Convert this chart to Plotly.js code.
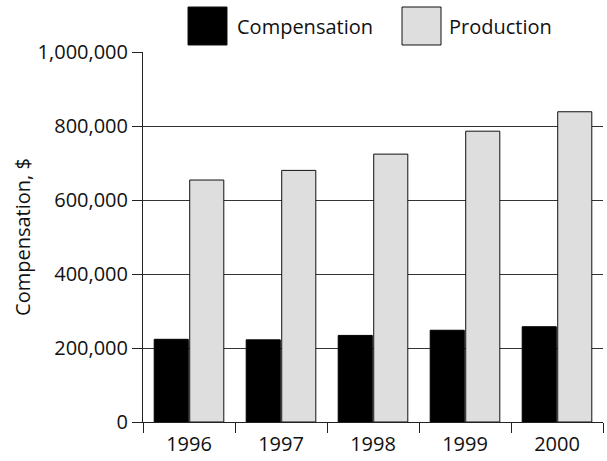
<!DOCTYPE html>
<html>
<head>
<meta charset="utf-8">
<script src="https://cdn.plot.ly/plotly-3.0.1.min.js"></script>
<style>
  html, body { margin: 0; padding: 0; background: #fff; }
  #chart { width: 607px; height: 461px; }
</style>
</head>
<body>
<div id="chart"></div>
<script>
// Annual totals, 1996–2000
const years = ['1996', '1997', '1998', '1999', '2000'];
const compensation = [223500, 222000, 234000, 248000, 257500];
const production = [654000, 680000, 724000, 786000, 838500];
const yTicks = [0, 200000, 400000, 600000, 800000, 1000000];

const seriesNames = ['Compensation', 'Production'];
const seriesFill = ['#000000', '#dedede'];

const textColor = '#111';
const fontFamily = '"Open Sans", "Noto Sans", sans-serif';

const traces = [
  {
    type: 'bar', name: seriesNames[0], x: years, y: compensation,
    marker: { color: seriesFill[0], line: { color: '#000', width: 1 } },
    hoverinfo: 'x+y'
  },
  {
    type: 'bar', name: seriesNames[1], x: years, y: production,
    marker: { color: seriesFill[1], line: { color: '#111', width: 1 } },
    hoverinfo: 'x+y'
  }
];

// Plot area in pixels, used to place the large legend keys above it
const W = 607, H = 461;
const M = { l: 143, r: 4, t: 52, b: 39 };
const pw = W - M.l - M.r, ph = H - M.t - M.b;
const px = v => (v - M.l) / pw;
const py = v => (H - M.b - v) / ph;

// Legend: big square keys followed by the series names
const keys = [
  { x0: 188, x1: 227, text: 235 },
  { x0: 402, x1: 441, text: 447 }
];
const shapes = keys.map((k, i) => ({
  type: 'rect', xref: 'paper', yref: 'paper',
  x0: px(k.x0), x1: px(k.x1), y0: py(45), y1: py(7),
  fillcolor: seriesFill[i], line: { color: '#111', width: 1 }
}));
const annotations = keys.map((k, i) => ({
  xref: 'paper', yref: 'paper', x: px(k.text), y: py(26),
  xanchor: 'left', yanchor: 'middle', showarrow: false,
  text: seriesNames[i], font: { size: 20, color: textColor, family: fontFamily }
}));

const layout = {
  width: W, height: H,
  margin: M,
  paper_bgcolor: '#fff', plot_bgcolor: '#fff',
  font: { family: fontFamily, size: 20, color: textColor },
  showlegend: false,
  barmode: 'group',
  bargap: 0.228,
  bargroupgap: 0.04,
  xaxis: {
    type: 'category',
    tickson: 'boundaries',
    ticks: 'outside', ticklen: 10, tickwidth: 1, tickcolor: '#222',
    ticklabelstandoff: 4,
    showline: true, linecolor: '#222', linewidth: 1,
    showgrid: false, zeroline: false,
    tickfont: { size: 20, color: textColor }
  },
  yaxis: {
    range: [0, 1000000],
    tickvals: yTicks,
    tickformat: ',d',
    ticks: 'outside', ticklen: 10, tickwidth: 1, tickcolor: '#222',
    showline: true, linecolor: '#222', linewidth: 1,
    showgrid: true, gridcolor: '#333', gridwidth: 1,
    zeroline: false,
    tickfont: { size: 20, color: textColor },
    title: { text: 'Compensation, $', font: { size: 20, color: textColor }, standoff: 1 }
  },
  shapes: shapes,
  annotations: annotations
};

Plotly.newPlot('chart', traces, layout, { displayModeBar: false, staticPlot: true });
</script>
</body>
</html>
